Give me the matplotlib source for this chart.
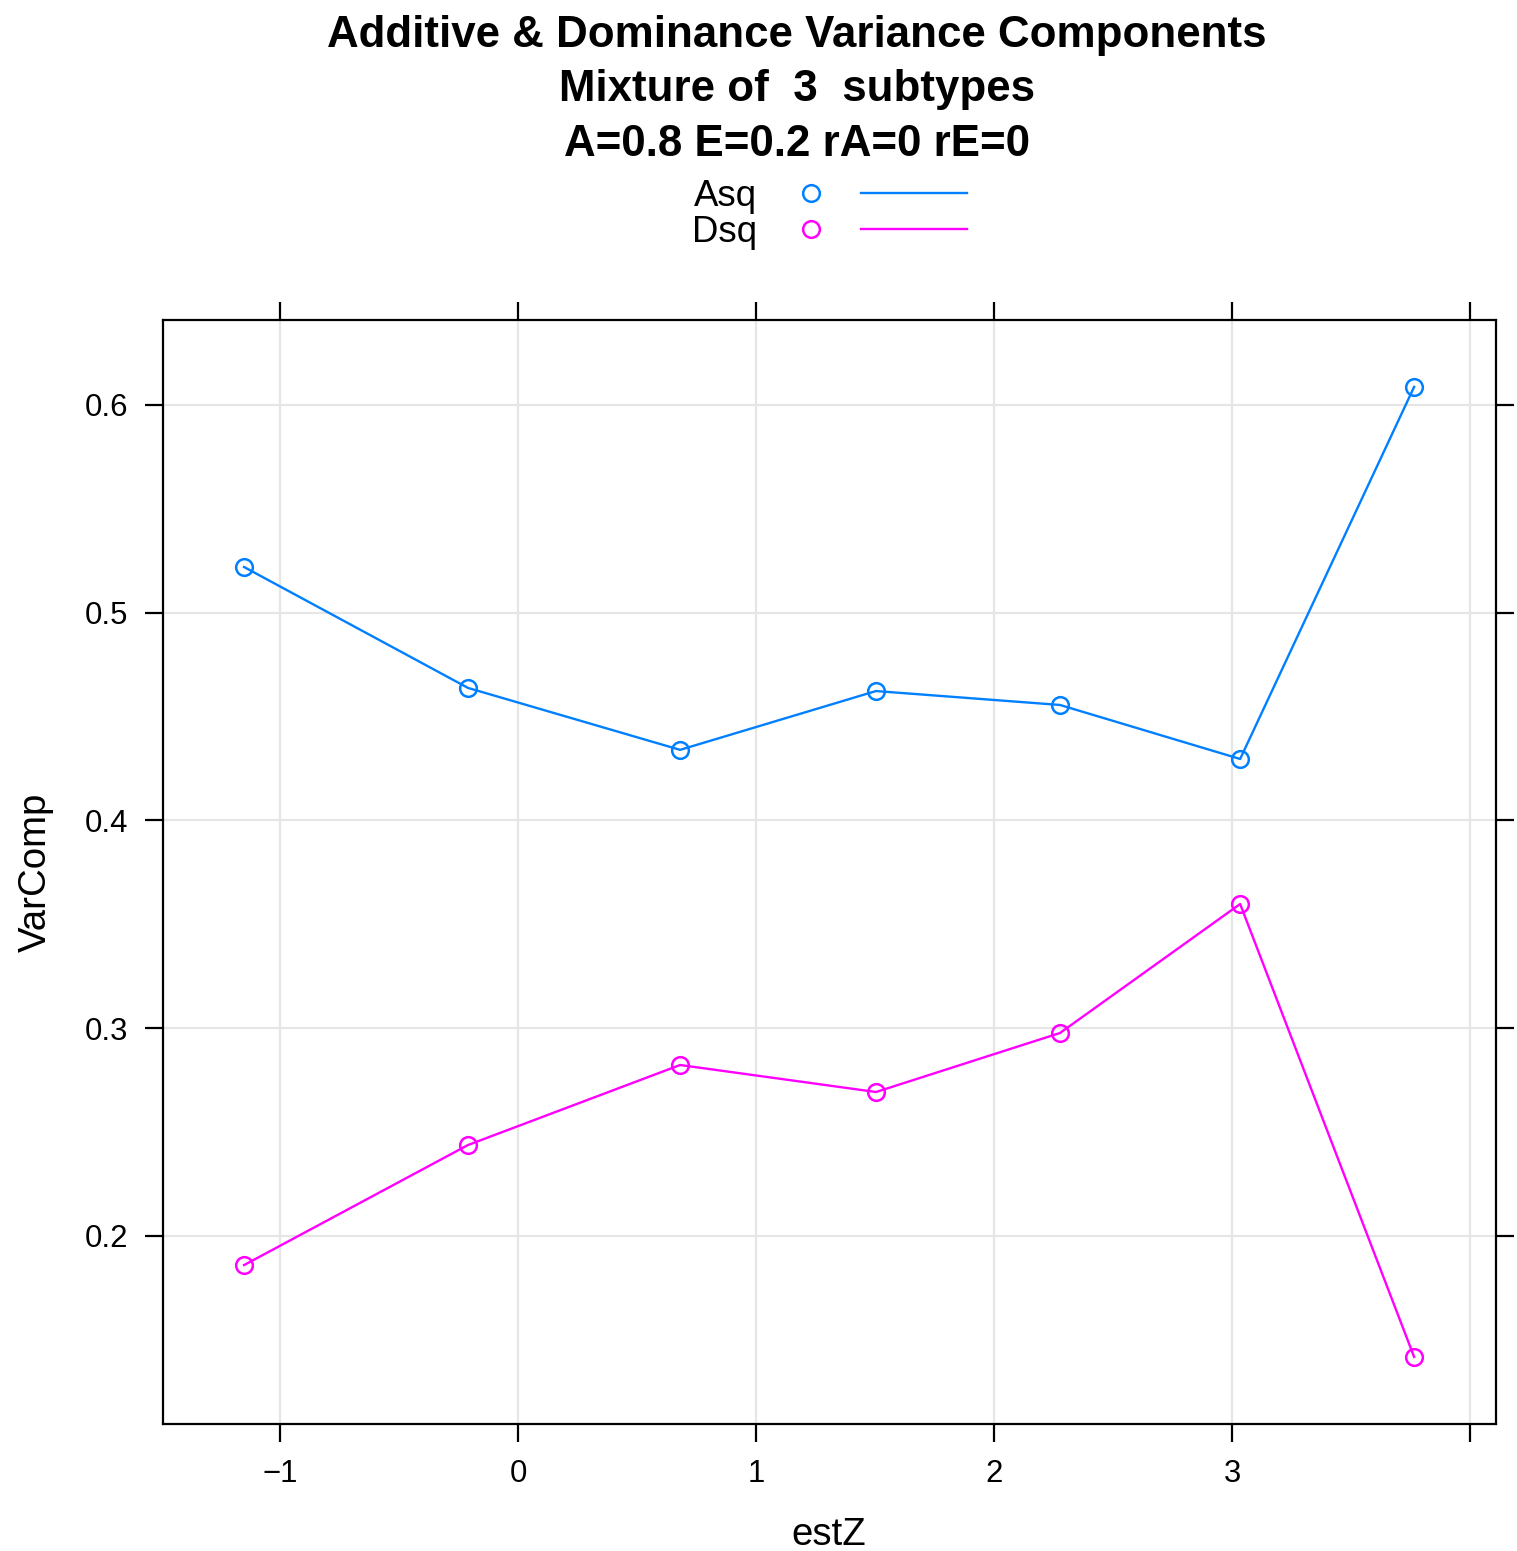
import matplotlib
matplotlib.use('Agg')
import matplotlib.pyplot as plt
from matplotlib.lines import Line2D

# estZ values and variance components
estZ = [-1.151, -0.210, 0.681, 1.504, 2.277, 3.034, 3.765]
asq = [0.522, 0.4638, 0.434, 0.4623, 0.4556, 0.4296, 0.6087]
dsq = [0.186, 0.2438, 0.2823, 0.2693, 0.2977, 0.3598, 0.1418]
xticks = [-1, 0, 1, 2, 3, 4]
xticklabels = ['\u22121', '0', '1', '2', '3', '']
yticks = [0.2, 0.3, 0.4, 0.5, 0.6]
yticklabels = ['0.2', '0.3', '0.4', '0.5', '0.6']

blue = '#0080ff'
pink = '#ff00ff'

plt.rcParams['font.family'] = ['Liberation Sans', 'DejaVu Sans']

W, H = 1517, 1551
fig = plt.figure(figsize=(W / 200, H / 200), dpi=200)
ax = fig.add_axes([163 / W, 1 - 1424 / H, (1496 - 163) / W, (1424 - 320) / H])

ax.set_xlim(-1.4916, 4.109)
ax.set_ylim(0.1095, 0.6409)

for x in xticks:
    ax.axvline(x, color='#e6e6e6', lw=0.8, zorder=0)
for y in yticks:
    ax.axhline(y, color='#e6e6e6', lw=0.8, zorder=0)

mk = dict(marker='o', ms=6.0, mfc='none', mew=0.9, lw=0.85)
ax.plot(estZ, asq, color=blue, **mk)
ax.plot(estZ, dsq, color=pink, **mk)

ax.set_xticks(xticks)
ax.set_xticklabels(xticklabels)
ax.set_yticks(yticks)
ax.set_yticklabels(yticklabels)
ax.tick_params(direction='out', length=6.5, width=0.8, labelsize=11.2,
               top=True, right=True, labeltop=False, labelright=False, pad=6)
for s in ax.spines.values():
    s.set_linewidth(0.8)

fig.text(829 / W, 1 - 1535 / H, 'estZ', ha='center', va='center', fontsize=13.8)
fig.text(36 / W, 1 - 872 / H, 'VarComp', ha='center', va='center',
         rotation=90, fontsize=13.8)

titles = ['Additive & Dominance Variance Components',
          'Mixture of  3  subtypes',
          'A=0.8 E=0.2 rA=0 rE=0']
for i, t in enumerate(titles):
    fig.text(797 / W, 1 - (36 + 54 * i) / H, t, ha='center', va='center',
             fontsize=15.8, fontweight='bold')

# legend drawn in lattice key style
for name, col, yp in [('Asq', blue, 193), ('Dsq', pink, 229)]:
    yf = 1 - yp / H
    fig.text(757 / W, 1 - (yp + 3) / H, name, ha='right', va='center', fontsize=13.2)
    fig.add_artist(Line2D([811 / W], [yf], marker='o', ms=6.0, mfc='none',
                          mew=0.9, color=col, transform=fig.transFigure))
    fig.add_artist(Line2D([861 / W, 967 / W], [yf, yf], lw=0.85, color=col,
                          transform=fig.transFigure))

fig.savefig('out.png', dpi=200)
